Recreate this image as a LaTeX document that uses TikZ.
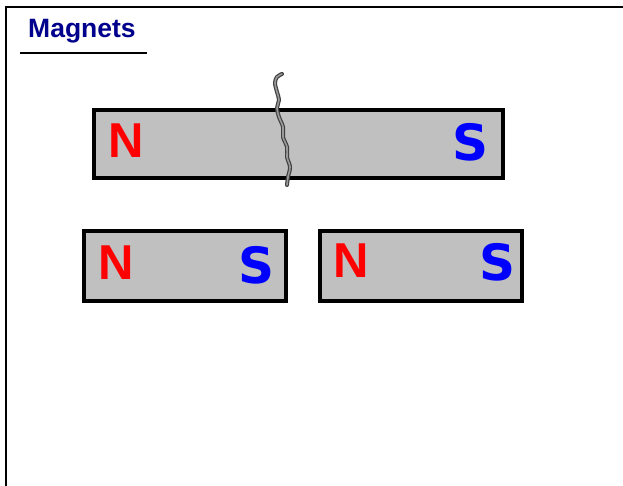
\documentclass[tikz,border=0pt]{standalone}
\usepackage{fontspec}
\newfontfamily\arialfont{Liberation Sans}
\newfontfamily\dvfont{DejaVu Sans}
\begin{document}
\begin{tikzpicture}[x=1pt,y=-1pt,
  magnet/.style={draw=black,line width=4pt,fill=magfill,inner sep=0pt},
  npole/.style={text=red,font=\arialfont\bfseries\fontsize{49}{49}\selectfont,inner sep=0pt},
  spole/.style={text=blue,font=\dvfont\bfseries\fontsize{50}{50}\selectfont,inner sep=0pt},
  frameline/.style={line width=2.5pt,black},
]
\definecolor{magfill}{HTML}{C0C0C0}
\definecolor{titleblue}{RGB}{0,0,140}
\useasboundingbox[fill=white] (0,0) rectangle (623,486);
% frame
\coordinate (fl) at (6,486);
\coordinate (fc) at (6,7);
\coordinate (fr) at (623,7);
\draw[frameline] (fl) -- (fc) -- (fr);
% title
\node[anchor=base west,inner sep=0pt,text=titleblue,font=\arialfont\bfseries\fontsize{26.5}{26.5}\selectfont] (title) at (28,38) {Magnets};
\coordinate (ul) at (20,53);
\coordinate (ur) at (147,53);
\draw[line width=2pt] (ul) -- (ur);
% magnets
\node[magnet,minimum width=409pt,minimum height=68pt] (big) at (298.5,144) {};
\node[magnet,minimum width=202pt,minimum height=70pt] (left) at (185,266) {};
\node[magnet,minimum width=202pt,minimum height=70pt] (right) at (421,266) {};
% poles
\node[npole] (bigN) at (126.5,140.5) {N};
\node[spole] (bigS) at (470,142.5) {S};
\node[npole] (leftN) at (116.5,263) {N};
\node[spole] (leftS) at (257,265) {S};
\node[npole] (rightN) at (351.5,261) {N};
\node[spole] (rightS) at (497,262.5) {S};
% crack line
\def\crackpath{plot[smooth,tension=0.6] coordinates {(282,74) (277,77) (275,83) (277,92) (279,100) (277,108) (279,117) (283,127) (283,137) (287,147) (287,157) (290,167) (288,177) (287,185)}}
\draw[line width=4pt,black!75,line cap=round] \crackpath;
\draw[line width=1.6pt,black!40,line cap=round] \crackpath;
\end{tikzpicture}
\end{document}
